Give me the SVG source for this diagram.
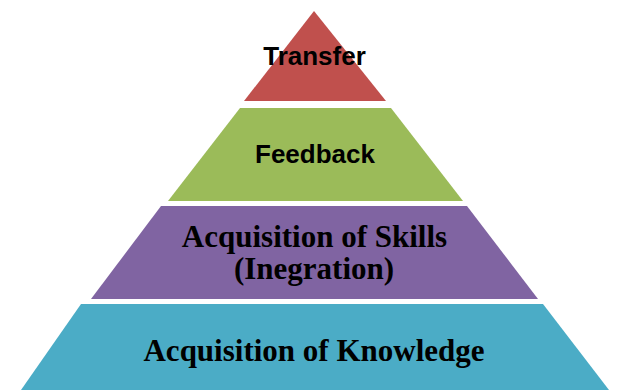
<svg xmlns="http://www.w3.org/2000/svg" width="619" height="390" viewBox="0 0 619 390">
<style>
.sans{font-family:"Liberation Sans",Arial,sans-serif;font-weight:bold;font-size:26px;fill:#000;text-anchor:middle}
.serif{font-family:"Liberation Serif","Times New Roman",serif;font-weight:bold;font-size:31px;fill:#000;text-anchor:middle}
</style>
<rect width="619" height="390" fill="#fff"/>
<g id="transfer">
<polygon points="314,11 386,101 244,101" fill="#C0504D"/>
<text class="sans" x="314.5" y="65">Transfer</text>
</g>
<g id="feedback">
<polygon points="240,108 391,108 463,201 168,201" fill="#9BBB59"/>
<text class="sans" x="315" y="163">Feedback</text>
</g>
<g id="skills">
<polygon points="161,206 467,206 538,299 91,299" fill="#8064A2"/>
<text class="serif" x="314.5" y="247">Acquisition of Skills</text>
<text class="serif" x="314" y="279">(Inegration)</text>
</g>
<g id="knowledge">
<polygon points="81,304 543,304 609,390 21,390" fill="#4BACC6"/>
<text class="serif" x="314" y="361">Acquisition of Knowledge</text>
</g>
<g id="connectors"/>
</svg>
